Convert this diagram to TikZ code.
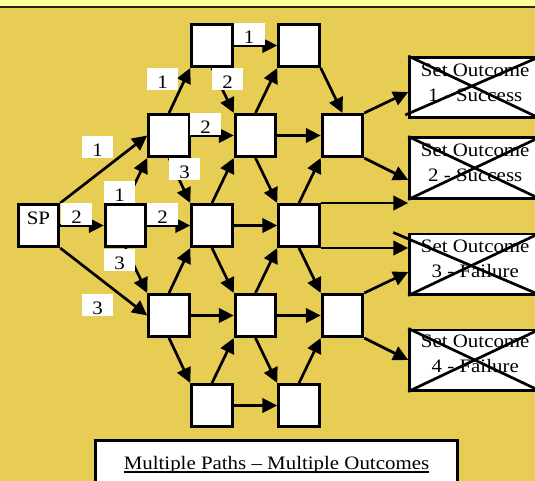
\documentclass[tikz,border=0pt]{standalone}
\usepackage{fontspec}
\setmainfont{Liberation Serif}[FakeStretch=1.1]
\usetikzlibrary{arrows.meta,calc}
\definecolor{gold}{RGB}{232,205,85}
\definecolor{paleyellow}{RGB}{255,255,153}
\newcommand{\thickul}[1]{\setbox0=\hbox{#1}\rlap{\rule[-3.8bp]{\wd0}{1.8bp}}\box0}
\begin{document}
\begin{tikzpicture}[x=1bp,y=-1bp,
  cell/.style={draw, fill=white, line width=2.8bp, minimum width=40.7bp, minimum height=42.2bp, inner sep=0pt},
  num/.style={fill=white, minimum width=31bp, minimum height=22bp, inner sep=0pt, text height=19bp, text depth=0pt, font=\fontsize{19bp}{22bp}\selectfont},
  arr/.style={line width=2.7bp, -{Triangle[length=15bp,width=14.5bp]}},
  outbox/.style={draw, fill=white, line width=2.8bp, minimum width=130.2bp, minimum height=60.2bp, inner sep=0pt},
  otext/.style={align=center, inner sep=0pt, font=\fontsize{19bp}{25bp}\selectfont},
  xline/.style={line width=2.7bp}]
\clip (0,0) rectangle (535,481);
\fill[gold] (0,0) rectangle (535,481);
\fill[paleyellow] (0,0) rectangle (535,6);
\fill[black!85] (0,6) rectangle (535,8.5);

% lattice boxes
\node[cell, text height=12bp, text depth=15bp, font=\fontsize{19bp}{22bp}\selectfont] (SP) at (38.5,225.5) {SP};
\node[cell] (A) at (125.5,225.5) {};
\node[cell] (c3a) at (169,135.5) {};
\node[cell] (c3b) at (169,315.5) {};
\node[cell] (c4a) at (212,45.5) {};
\node[cell] (c4b) at (212,225.5) {};
\node[cell] (c4c) at (212,405.5) {};
\node[cell] (c5a) at (255.5,135.5) {};
\node[cell] (c5b) at (255.5,315.5) {};
\node[cell] (c6a) at (299,45.5) {};
\node[cell] (c6b) at (299,225.5) {};
\node[cell] (c6c) at (299,405.5) {};
\node[cell] (c7a) at (342.5,135.5) {};
\node[cell] (c7b) at (342.5,315.5) {};

% outcome boxes
\node[outbox] (o1) at (474.75,87.5) {};
\node[outbox] (o2) at (474.75,168) {};
\node[outbox] (o3) at (474.75,264) {};
\node[outbox] (o4) at (474.75,360) {};
\node[otext] (t1) at ($(o1.center)+(0.5,-5)$) {Set Outcome\\1 - Success};
\node[otext] (t2) at ($(o2.center)+(0.5,-5)$) {Set Outcome\\2 - Success};
\node[otext] (t3) at ($(o3.center)+(0.5,-5)$) {Set Outcome\\3 - Failure};
\node[otext] (t4) at ($(o4.center)+(0.5,-6)$) {Set Outcome\\4 - Failure};
\draw[xline] (o1.north west) -- (o1.south east);
\draw[xline] ($(o1.south west)+(-3,-4)$) -- (o1.north east);
\draw[xline] (o2.north west) -- (o2.south east);
\draw[xline] (o2.south west) -- (o2.north east);
\draw[xline] ($(o3.north west)+(-15,0)$) -- (o3.south east);
\draw[xline] (o3.south west) -- (o3.north east);
\draw[xline] (o4.north west) -- (o4.south east);
\draw[xline] (o4.south west) -- (o4.north east);

% connectors
\draw[arr] (SP.north east) -- (c3a.west);
\draw[arr] (SP.east) -- (A.west);
\draw[arr] (SP.south east) -- (c3b.west);
\draw[arr] (A.north) -- (c3a.south west);
\draw[arr] (A.east) -- (c4b.west);
\draw[arr] (A.south) -- (c3b.north west);
\draw[arr] (c3a.north) -- (c4a.south west);
\draw[arr] (c3a.east) -- (c5a.west);
\draw[arr] (c3a.south) -- (c4b.north west);
\draw[arr] (c3b.north) -- (c4b.south west);
\draw[arr] (c3b.east) -- (c5b.west);
\draw[arr] (c3b.south) -- (c4c.north west);
\draw[arr] (c4a.east) -- (c6a.west);
\draw[arr] (c4a.south) -- (c5a.north west);
\draw[arr] (c4b.north) -- (c5a.south west);
\draw[arr] (c4b.east) -- (c6b.west);
\draw[arr] (c4b.south) -- (c5b.north west);
\draw[arr] (c4c.north) -- (c5b.south west);
\draw[arr] (c4c.east) -- (c6c.west);
\draw[arr] (c5a.north) -- (c6a.south west);
\draw[arr] (c5a.east) -- (c7a.west);
\draw[arr] (c5a.south) -- (c6b.north west);
\draw[arr] (c5b.north) -- (c6b.south west);
\draw[arr] (c5b.east) -- (c7b.west);
\draw[arr] (c5b.south) -- (c6c.north west);
\draw[arr] (c6a.south east) -- (c7a.north);
\draw[arr] (c6b.north) -- (c7a.south west);
\draw[arr] (c6b.south) -- (c7b.north west);
\draw[arr] (c6b.north east) -- (c6b.north east -| o2.west);
\draw[arr] (c6b.south east) -- (c6b.south east -| o3.west);
\draw[arr] (c6c.north) -- (c7b.south west);
\draw[arr] (c7a.north east) -- ($(o1.west)+(0,4.5)$);
\draw[arr] (c7a.south east) -- ($(o2.west)+(0,12)$);
\draw[arr] (c7b.north east) -- ($(o3.west)+(0,8)$);
\draw[arr] (c7b.south east) -- (o4.west);

% number labels
\node[num] (l1) at (162.5,79) {1};
\node[num] (l2) at (227.5,79.5) {2};
\node[num] (l3) at (249,34) {1};
\node[num] (l4) at (97.5,147.5) {1};
\node[num] (l5) at (205.5,124) {2};
\node[num] (l6) at (184.5,169.5) {3};
\node[num] (l7) at (119.5,192) {1};
\node[num] (l8) at (76.5,214) {2};
\node[num] (l9) at (162.5,214) {2};
\node[num] (l10) at (119.5,259.5) {3};
\node[num] (l11) at (97.5,304.5) {3};

% title
\node[draw, fill=white, line width=2.8bp, minimum width=362.2bp, minimum height=54.5bp, inner sep=0pt, text height=14bp, text depth=11.2bp, font=\fontsize{19bp}{22bp}\selectfont] (title) at (276.5,467.6) {\thickul{Multiple Paths \textendash\ Multiple Outcomes}};
\end{tikzpicture}
\end{document}
